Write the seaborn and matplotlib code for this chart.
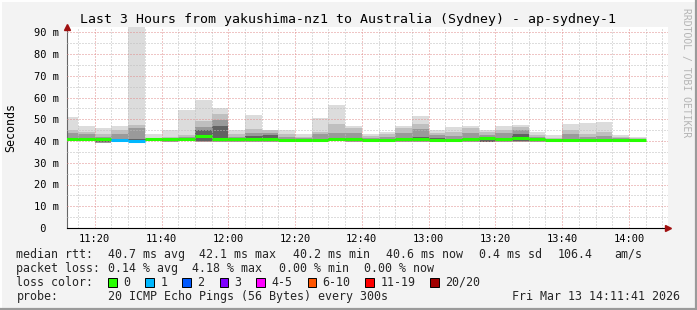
import numpy as np
import pandas as pd
import matplotlib
matplotlib.use("Agg")
import matplotlib.pyplot as plt
import seaborn as sns
from matplotlib.lines import Line2D
from matplotlib.patches import Rectangle
from matplotlib.ticker import FixedLocator, MultipleLocator

# ---------------- data (ms) ----------------
bin_start = ["11:10", "11:15", "11:20", "11:25", "11:30", "11:35", "11:40", "11:45",
             "11:50", "11:55", "12:00", "12:05", "12:10", "12:15", "12:20", "12:25",
             "12:30", "12:35", "12:40", "12:45", "12:50", "12:55", "13:00", "13:05",
             "13:10", "13:15", "13:20", "13:25", "13:30", "13:35", "13:40", "13:45",
             "13:50", "13:55", "14:00"]
rtt_max = [51.0, 46.9, 46.0, 46.9, 95.0, 43.2, 45.2, 54.4, 59.0, 55.2, 44.9, 52.0,
           45.2, 45.2, 43.2, 50.6, 56.7, 46.9, 43.2, 44.3, 46.9, 51.5, 45.2, 46.6,
           46.9, 45.2, 46.9, 47.5, 44.3, 42.8, 48.0, 48.4, 48.9, 42.8, 42.0]
rtt_up2 = [45.1, 44.3, 43.1, 45.1, 47.4, 41.5, 41.8, 42.8, 49.2, 52.4, 43.1, 45.6,
           44.9, 43.1, 42.0, 44.3, 47.7, 46.1, 42.3, 43.2, 45.8, 47.7, 43.5, 44.3,
           45.8, 44.3, 45.1, 46.5, 42.8, 41.5, 45.1, 43.2, 44.3, 41.8, 41.5]
rtt_up3 = [43.5, 43.0, 41.8, 43.1, 45.8, 41.0, 41.2, 41.8, 46.6, 49.7, 41.8, 43.5,
           43.5, 42.0, 41.5, 43.1, 43.5, 43.5, 41.5, 42.0, 43.5, 45.6, 42.8, 42.3,
           43.5, 42.8, 43.5, 45.1, 41.7, 41.0, 43.1, 42.0, 42.3, 41.2, 41.0]
rtt_up4 = [41.2, 41.1, 41.0, 41.0, 41.0, 40.9, 40.9, 41.3, 44.9, 46.9, 41.0, 42.5,
           42.8, 40.9, 40.6, 40.6, 41.2, 41.2, 41.0, 41.0, 41.0, 42.0, 41.3, 41.0,
           41.3, 42.0, 41.3, 43.0, 41.0, 40.7, 40.9, 40.9, 40.9, 40.9, 40.9]
rtt_median = [40.8, 40.8, 40.8, 40.6, 40.2, 40.7, 40.7, 41.1, 42.1, 41.1, 40.8, 40.9,
              40.8, 40.6, 40.3, 40.3, 40.8, 40.8, 40.5, 40.5, 40.7, 40.9, 40.6, 40.6,
              41.0, 41.3, 41.0, 41.6, 40.7, 40.4, 40.6, 40.6, 40.6, 40.6, 40.6]
rtt_min = [39.8, 39.9, 39.3, 39.6, 39.6, 39.9, 39.7, 39.8, 39.6, 39.7, 39.7, 39.5,
           39.6, 39.7, 39.6, 39.7, 39.9, 39.7, 39.5, 39.5, 39.7, 39.6, 39.5, 39.6,
           39.7, 39.4, 39.6, 39.5, 39.7, 39.5, 39.7, 39.7, 39.6, 39.7, 39.6]
lost_pings = [0, 0, 0, 1, 1, 0, 0, 0, 0, 0, 0, 0, 0, 0, 0, 0, 0, 0, 0, 0, 0, 0, 0, 0,
              0, 0, 0, 0, 0, 0, 0, 0, 0, 0, 0]

x_tick_labels = ["11:20", "11:40", "12:00", "12:20", "12:40", "13:00", "13:20", "13:40", "14:00"]
y_tick_values = [0, 10, 20, 30, 40, 50, 60, 70, 80, 90]
y_tick_labels = [" 0", "10 m", "20 m", "30 m", "40 m", "50 m", "60 m", "70 m", "80 m", "90 m"]

loss_labels = ["0", "1", "2", "3", "4-5", "6-10", "11-19", "20/20"]
loss_colors = ["#26ff00", "#00b8ff", "#0059ff", "#7e00ff", "#ff00ff", "#ff5500", "#ff0000", "#a10000"]

title = "Last 3 Hours from yakushima-nz1 to Australia (Sydney) - ap-sydney-1"
median_stats = ["40.7 ms avg", "42.1 ms max", "40.2 ms min", "40.6 ms now", "0.4 ms sd", "106.4", "am/s"]
loss_stats = ["0.14 % avg", "4.18 % max", "0.00 % min", "0.00 % now"]
probe_text = "20 ICMP Echo Pings (56 Bytes) every 300s"
stamp_text = "Fri Mar 13 14:11:41 2026"

# ---------------- frame ----------------
def to_min(s):
    h, m = s.split(":")
    return (int(h) - 11) * 60 + int(m)

df = pd.DataFrame({
    "start": [to_min(s) for s in bin_start],
    "max": rtt_max, "up2": rtt_up2, "up3": rtt_up3, "up4": rtt_up4,
    "median": rtt_median, "min": rtt_min, "lost": lost_pings,
})
df["color"] = [loss_colors[min(v, 3)] if v <= 3 else loss_colors[4] for v in df["lost"]]

sns.set_theme(style="white")
plt.rcParams["font.family"] = ["DejaVu Sans Mono", "DejaVu Sans"]
plt.rcParams["axes.unicode_minus"] = False

W, H, DPI = 697, 310, 100
fig = plt.figure(figsize=(W / DPI, H / DPI), dpi=DPI, facecolor="#f3f3f3")
L, R, B, T = 67, 668, 228, 27
ax = fig.add_axes([L / W, 1 - B / H, (R - L) / W, (B - T) / H])
ax.set_facecolor("white")

x0 = 11 + 41.7 / 60
ax.set_xlim(x0, x0 + 180)
ax.set_ylim(0, (B - T) / 2.175)

bw = 5
ax.bar(df["start"], df["max"] - df["min"], bottom=df["min"], width=bw, align="edge",
       color="#dcdcdc", linewidth=0, zorder=1)
ax.bar(df["start"], df["up2"] - df["min"], bottom=df["min"], width=bw, align="edge",
       color="#bfbfbf", linewidth=0, zorder=1.1)
ax.bar(df["start"], df["up3"] - df["min"], bottom=df["min"], width=bw, align="edge",
       color="#9a9a9a", linewidth=0, zorder=1.2)
ax.bar(df["start"], df["up4"] - df["min"] - 0.3, bottom=df["min"] + 0.3, width=bw, align="edge",
       color="#626262", linewidth=0, zorder=1.3)

med = ax.hlines(df["median"], df["start"], df["start"] + bw, colors=df["color"],
                linewidth=2.2, zorder=4)
med.set_capstyle("butt")

# grid
ax.set_axisbelow(False)
ax.xaxis.set_major_locator(FixedLocator([to_min(s) for s in x_tick_labels]))
ax.set_xticklabels(x_tick_labels)
ax.xaxis.set_minor_locator(MultipleLocator(5))
ax.yaxis.set_major_locator(FixedLocator(y_tick_values))
ax.set_yticklabels(y_tick_labels)
ax.yaxis.set_minor_locator(MultipleLocator(5))
ax.grid(which="minor", color="#bdbdbd", linestyle=(0, (1, 2)), linewidth=0.72)
ax.grid(which="major", color="#e08c8c", linestyle=(0, (1, 2)), linewidth=0.72)

for sp in ["top", "right"]:
    ax.spines[sp].set_visible(False)
ax.spines["left"].set_color("#666666")
ax.spines["left"].set_linewidth(0.8)
ax.spines["bottom"].set_color("#000000")
ax.spines["bottom"].set_linewidth(0.8)

ax.tick_params(axis="x", which="major", length=2, width=0.7, color="#333333", pad=2.2,
               labelsize=7.5, labelcolor="#000000")
ax.tick_params(axis="x", which="minor", length=0)
ax.tick_params(axis="y", which="major", length=2, width=0.7, color="#333333", pad=21.9,
               labelsize=7.5, labelcolor="#000000")
ax.tick_params(axis="y", which="minor", length=0)
for lab in ax.get_yticklabels():
    lab.set_horizontalalignment("left")

# axis arrows
ax.plot([0], [1.0], marker="^", markersize=4.5, color="#a01010", transform=ax.transAxes,
        clip_on=False, zorder=6)
ax.plot([1.0], [0], marker=">", markersize=4.5, color="#a01010", transform=ax.transAxes,
        clip_on=False, zorder=6)

# ---------------- texts ----------------
def fx(px):
    return px / W

def fy(py):
    return 1 - py / H

fig.text(fx(347.5), fy(19.3), title, ha="center", va="center", fontsize=9.5, color="#000000")
fig.text(fx(686), fy(73), "RRDTOOL / TOBI OETIKER", rotation=270, ha="center", va="center",
         fontsize=7.0, color="#b4b4b4")
fig.text(fx(10.5), fy(127), "Seconds", rotation=90, ha="center", va="center",
         fontsize=8.4, color="#000000")

fs = 8.4
y1, y2, y3, y4 = 254.3, 268.3, 282.3, 296.3
fig.text(fx(16.4), fy(y1), "median rtt:", ha="left", va="center", fontsize=fs)
for txt, xp in zip(median_stats, [107.6, 199, 292.9, 385.8, 479, 557.8, 613.8]):
    fig.text(fx(xp), fy(y1), txt, ha="left", va="center", fontsize=fs)
fig.text(fx(16.4), fy(y2), "packet loss:", ha="left", va="center", fontsize=fs)
for txt, xp in zip(loss_stats, [107.6, 192.4, 279, 364.4]):
    fig.text(fx(xp), fy(y2), txt, ha="left", va="center", fontsize=fs)
fig.text(fx(16.4), fy(y3), "loss color:", ha="left", va="center", fontsize=fs)
box_x = [108, 145.3, 182, 219.6, 256.4, 307.6, 365.3, 430.2]
for lab, col, bx in zip(loss_labels, loss_colors, box_x):
    fig.patches.append(Rectangle((fx(bx), fy(y3 + 4.5)), 8.5 / W, 9 / H, transform=fig.transFigure,
                                 facecolor=col, edgecolor="#000000", linewidth=0.7))
    fig.text(fx(bx + 15), fy(y3), lab, ha="left", va="center", fontsize=fs)
fig.text(fx(16.4), fy(y4), "probe:", ha="left", va="center", fontsize=fs)
fig.text(fx(107.6), fy(y4), probe_text, ha="left", va="center", fontsize=fs)
fig.text(fx(680), fy(y4), stamp_text, ha="right", va="center", fontsize=fs)

# outer frame
fig.add_artist(Line2D([0, 1], [fy(0.5), fy(0.5)], transform=fig.transFigure, color="#ffffff", lw=1.4))
fig.add_artist(Line2D([fx(0.5), fx(0.5)], [0, 1], transform=fig.transFigure, color="#ffffff", lw=1.4))
fig.add_artist(Line2D([0, 1], [fy(309), fy(309)], transform=fig.transFigure, color="#9a9a9a", lw=1.6))
fig.add_artist(Line2D([fx(696), fx(696)], [0, 1], transform=fig.transFigure, color="#9a9a9a", lw=1.6))

fig.savefig("out.png", dpi=DPI, facecolor=fig.get_facecolor())
